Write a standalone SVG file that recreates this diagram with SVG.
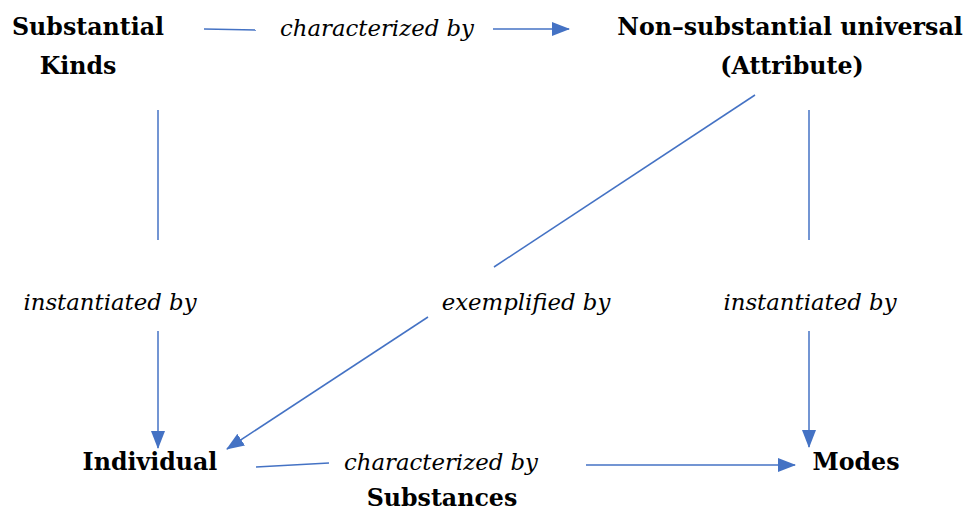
<svg xmlns="http://www.w3.org/2000/svg" width="971" height="513" viewBox="0 0 971 513">
<defs>
<style>
.n{font-family:"DejaVu Serif",serif;font-weight:bold;font-size:23.7px;fill:#000;text-anchor:middle}
.l{font-family:"DejaVu Serif",serif;font-style:italic;font-size:22.8px;fill:#000;text-anchor:middle}
.c{stroke:#4472C4;stroke-width:1.5;fill:none}
</style>
<marker id="ah" markerUnits="userSpaceOnUse" markerWidth="18" markerHeight="14" viewBox="0 0 18 14" refX="17" refY="7" orient="auto">
<path d="M0,0 L18,7 L0,14 Z" fill="#4472C4"/>
</marker>
</defs>
<rect width="971" height="513" fill="#fff"/>
<g id="connectors">
<line class="c" x1="204" y1="29" x2="256" y2="30"/>
<line class="c" x1="493" y1="29" x2="569" y2="29" marker-end="url(#ah)"/>
<line class="c" x1="158" y1="110" x2="158" y2="240"/>
<line class="c" x1="158" y1="331" x2="158" y2="448" marker-end="url(#ah)"/>
<line class="c" x1="755" y1="95" x2="494" y2="267"/>
<line class="c" x1="428" y1="317" x2="227" y2="449" marker-end="url(#ah)"/>
<line class="c" x1="809" y1="110" x2="809" y2="240"/>
<line class="c" x1="809" y1="331" x2="809" y2="447" marker-end="url(#ah)"/>
<line class="c" x1="256" y1="467" x2="329" y2="463"/>
<line class="c" x1="586" y1="465" x2="795" y2="465" marker-end="url(#ah)"/>
</g>
<g id="label-top"><text class="l" x="377" y="36">characterized by</text></g>
<g id="label-left"><text class="l" x="110" y="310">instantiated by</text></g>
<g id="label-mid"><text class="l" x="526" y="310">exemplified by</text></g>
<g id="label-right"><text class="l" x="810" y="310">instantiated by</text></g>
<g id="label-bottom"><text class="l" x="441" y="470">characterized by</text></g>
<g id="node-kinds"><text class="n" x="88" y="35">Substantial</text><text class="n" x="78" y="74">Kinds</text></g>
<g id="node-attribute"><text class="n" x="790" y="35">Non–substantial universal</text><text class="n" x="792" y="74">(Attribute)</text></g>
<g id="node-individual"><text class="n" x="150" y="470">Individual</text></g>
<g id="node-substances"><text class="n" x="442" y="506">Substances</text></g>
<g id="node-modes"><text class="n" x="856" y="470">Modes</text></g>
</svg>
